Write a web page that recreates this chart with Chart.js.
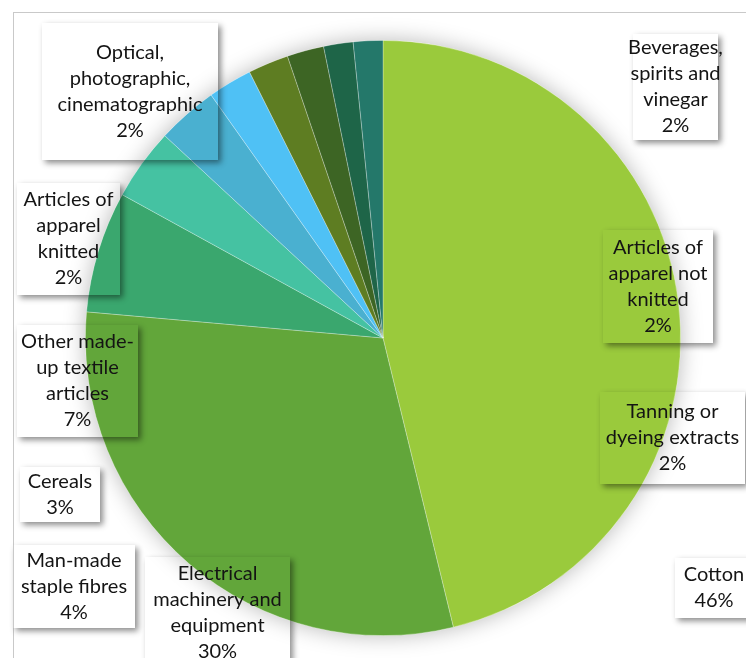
<!DOCTYPE html>
<html>
<head>
<meta charset="utf-8">
<script src="https://cdn.jsdelivr.net/npm/chart.js@4"></script>
<style>
  html, body { margin: 0; padding: 0; background: #ffffff; }
  #wrap { position: relative; width: 746px; height: 658px; }
  #frame { position: absolute; left: 13px; top: 12px; width: 760px; height: 700px; border: 1.5px solid #c9c9c9; box-sizing: border-box; }
  canvas { position: absolute; left: 0; top: 0; }
</style>
</head>
<body>
<div id="wrap">
  <div id="frame"></div>
  <canvas id="c" width="746" height="658"></canvas>
</div>
<script>
// ---- data ----
const categories = [
  "Cotton",
  "Electrical machinery and equipment",
  "Other made-up textile articles",
  "Man-made staple fibres",
  "Cereals",
  "Articles of apparel knitted",
  "Optical, photographic, cinematographic",
  "Beverages, spirits and vinegar",
  "Articles of apparel not knitted",
  "Tanning or dyeing extracts"
];
const shares = [46.2, 30.2, 6.6, 3.9, 3.3, 2.4, 2.2, 2.0, 1.6, 1.6];
// how each category name wraps inside its label box
const labelLines = [
  ["Cotton"],
  ["Electrical", "machinery and", "equipment"],
  ["Other made-", "up textile", "articles"],
  ["Man-made", "staple fibres"],
  ["Cereals"],
  ["Articles of", "apparel", "knitted"],
  ["Optical,", "photographic,", "cinematographic"],
  ["Beverages,", "spirits and", "vinegar"],
  ["Articles of", "apparel not", "knitted"],
  ["Tanning or", "dyeing extracts"]
];

// ---- styles / layout ----
const sliceColors = [
  "#9aca3c", "#62a63a", "#3aa76e", "#45c2a2", "#4ab0d0",
  "#4fc1f5", "#5e7d22", "#3d6524", "#1e6548", "#24786a"
];
// label boxes (x, y, w, h) in canvas pixels, as placed in the source chart
const labelBoxes = [
  [675, 558, 78, 60],
  [145, 557, 145, 112],
  [17, 325, 121, 112],
  [13, 545, 122, 83],
  [20, 467, 80, 55],
  [17, 183, 103, 112],
  [42, 23, 176, 137],
  [633, 34, 85, 106],
  [603, 230, 110, 113],
  [600, 392, 145, 92]
];
const FONT = '20px Lato, "Open Sans", sans-serif';
const LINE_H = 26;

const total = shares.reduce((a, b) => a + b, 0);

const pieShadow = {
  id: 'pieShadow',
  beforeDatasetsDraw(chart) {
    const arc = chart.getDatasetMeta(0).data[0];
    if (!arc) return;
    const ctx = chart.ctx;
    ctx.save();
    ctx.beginPath();
    ctx.arc(arc.x, arc.y, arc.outerRadius, 0, Math.PI * 2);
    ctx.shadowColor = 'rgba(0,0,0,0.28)';
    ctx.shadowBlur = 22;
    ctx.fillStyle = '#ffffff';
    ctx.fill();
    ctx.restore();
  }
};

const boxLabels = {
  id: 'boxLabels',
  afterDatasetsDraw(chart) {
    const ctx = chart.ctx;
    const W = chart.width, H = chart.height;
    categories.forEach((cat, i) => {
      const [x, y, w, h] = labelBoxes[i];
      // shadow only outside the (transparent) box
      ctx.save();
      ctx.beginPath();
      ctx.rect(0, 0, W, H);
      ctx.rect(x, y, w, h);
      ctx.clip('evenodd');
      ctx.shadowColor = 'rgba(0,0,0,0.45)';
      ctx.shadowBlur = 6;
      ctx.shadowOffsetX = 3;
      ctx.shadowOffsetY = 3;
      ctx.fillStyle = '#ffffff';
      ctx.fillRect(x, y, w, h);
      ctx.restore();

      const pct = Math.round(shares[i] / total * 100) + '%';
      const lines = labelLines[i].concat([pct]);
      ctx.save();
      ctx.font = FONT;
      ctx.fillStyle = '#141414';
      ctx.textAlign = 'center';
      ctx.textBaseline = 'middle';
      const cx = x + w / 2;
      const cy = y + h / 2;
      const startY = cy - (lines.length - 1) * LINE_H / 2;
      lines.forEach((ln, k) => ctx.fillText(ln, cx, startY + k * LINE_H));
      ctx.restore();
    });
  }
};

new Chart(document.getElementById('c'), {
  type: 'pie',
  data: {
    labels: categories,
    datasets: [{
      data: shares,
      backgroundColor: sliceColors,
      borderColor: 'rgba(255,255,255,0.35)',
      borderWidth: 0.8
    }]
  },
  options: {
    responsive: false,
    animation: false,
    layout: { padding: { left: 85, right: 65, top: 40, bottom: 22 } },
    plugins: {
      legend: { display: false },
      tooltip: { enabled: false }
    }
  },
  plugins: [pieShadow, boxLabels]
});
</script>
</body>
</html>
